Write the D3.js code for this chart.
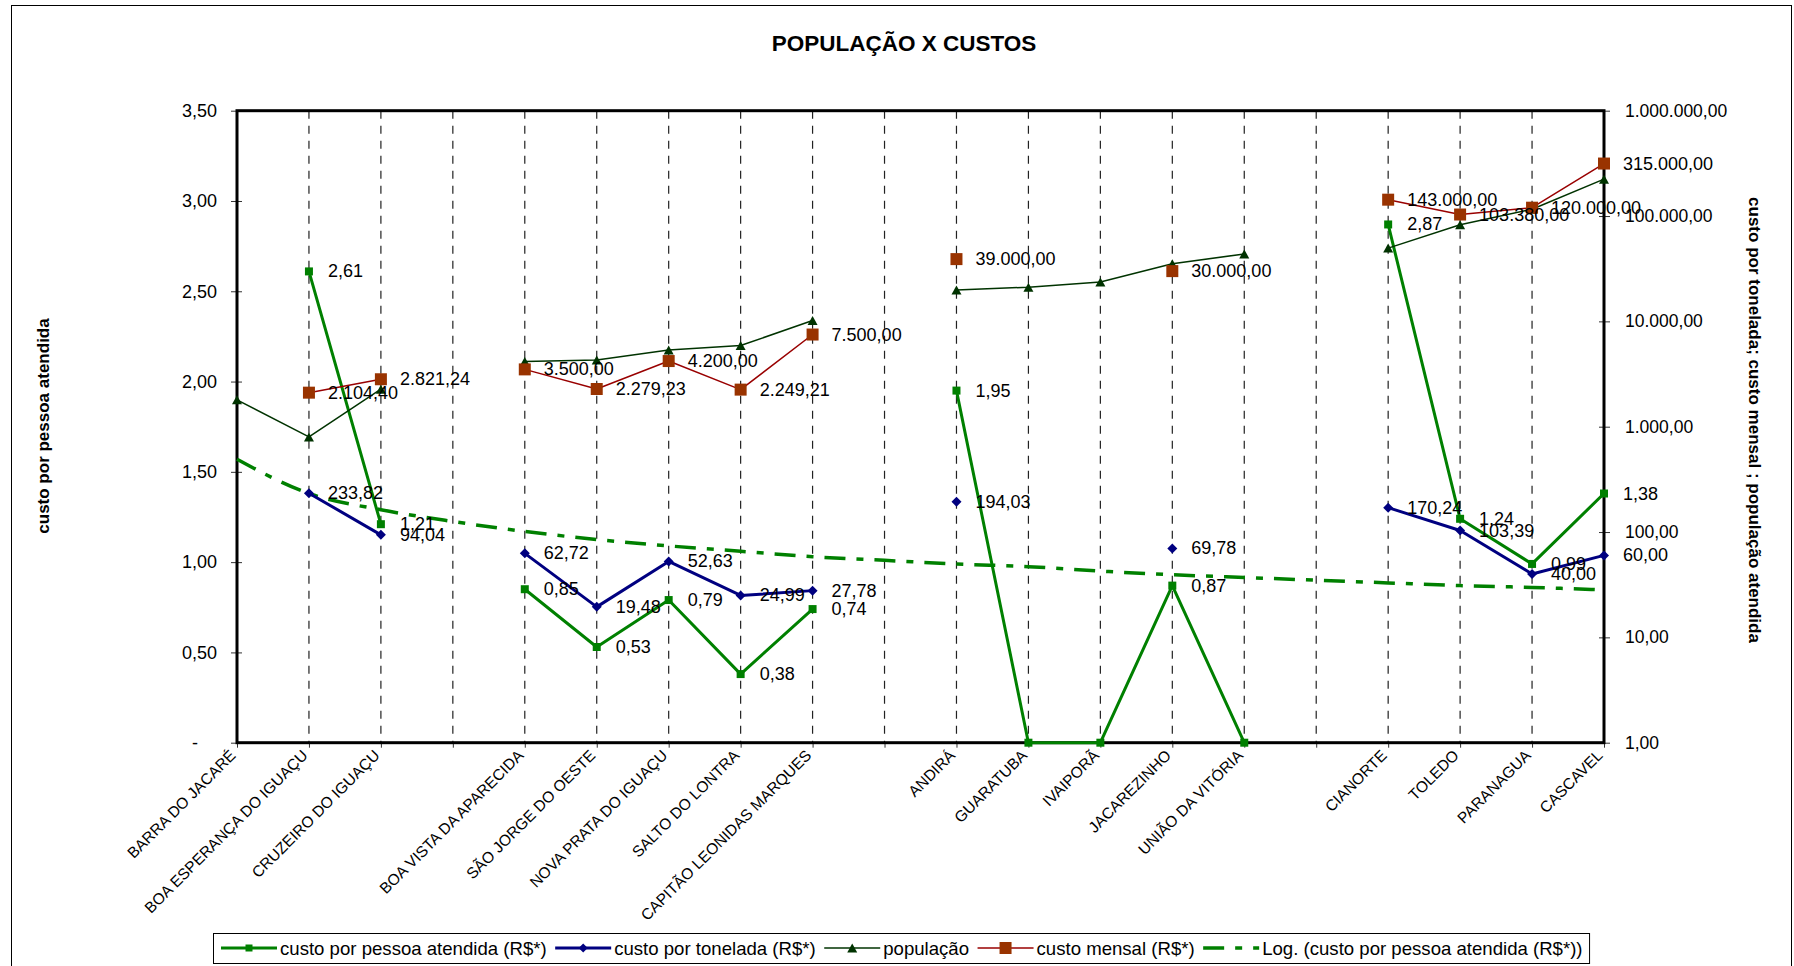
<!DOCTYPE html>
<html>
<head>
<meta charset="utf-8">
<script src="https://cdn.jsdelivr.net/npm/d3@7"></script>
<style>
  body { margin: 0; background: #fff; }
  svg { display: block; font-family: "Liberation Sans", Arial, sans-serif; }
</style>
</head>
<body>
<script>
const width = 1794,
      height = 966;

// categories ("" = empty slot in the original sheet)
const categories = ["BARRA DO JACARÉ", "BOA ESPERANÇA DO IGUAÇU", "CRUZEIRO DO IGUAÇU", "",
  "BOA VISTA DA APARECIDA", "SÃO JORGE DO OESTE", "NOVA PRATA DO IGUAÇU", "SALTO DO LONTRA",
  "CAPITÃO LEONIDAS MARQUES", "", "ANDIRÁ", "GUARATUBA", "IVAIPORÃ", "JACAREZINHO",
  "UNIÃO DA VITÓRIA", "", "CIANORTE", "TOLEDO", "PARANAGUA", "CASCAVEL"];

// left axis
const custoPessoa = [null, 2.61, 1.21, null, 0.85, 0.53, 0.79, 0.38, 0.74, null,
  1.95, 0, 0, 0.87, 0, null, 2.87, 1.24, 0.99, 1.38];
// log trend of custoPessoa
const tendencia = [1.57, 1.38, 1.29, 1.225, 1.17, 1.125, 1.09, 1.06, 1.03, 1.01,
  0.99, 0.975, 0.95, 0.93, 0.915, 0.90, 0.885, 0.87, 0.86, 0.846];

// right (log) axis
const custoTonelada = [null, 233.82, 94.04, null, 62.72, 19.48, 52.63, 24.99, 27.78, null,
  194.03, null, null, 69.78, null, null, 170.24, 103.39, 40.00, 60.00];
const populacao = [1800, 800, 2270, null, 4150, 4300, 5360, 5890, 10200, null,
  19900, 21100, 23600, 35200, 43700, null, 49600, 82500, 116000, 224000];
const custoMensal = [null, 2104.40, 2821.24, null, 3500, 2279.23, 4200, 2249.21, 7500, null,
  39000, null, null, 30000, null, null, 143000, 103380, 120000, 315000];

const leftTicks = [0, 0.5, 1, 1.5, 2, 2.5, 3, 3.5];
const rightTicks = [1, 10, 100, 1000, 10000, 100000, 1000000];

const legendLabels = ["custo por pessoa atendida (R$*)", "custo por tonelada (R$*)", "população",
  "custo mensal (R$*)", "Log. (custo por pessoa atendida (R$*))"];

const br = d3.formatLocale({ decimal: ",", thousands: ".", grouping: [3], currency: ["R$", ""] });
const fmt = br.format(",.2f");

const plot = { left: 237, right: 1604, top: 110.7, bottom: 742.7 };

const x = d3.scalePoint()
    .domain(d3.range(categories.length))
    .range([plot.left, plot.right]);
const yL = d3.scaleLinear().domain([0, 3.5]).range([plot.bottom, plot.top]);
const yR = d3.scaleLog().domain([1, 1e6]).range([plot.bottom, plot.top]);

const GREEN = "#008000", NAVY = "#000080", POP = "#003300", RED = "#990000", BROWN = "#993300";

const svg = d3.select("body").append("svg")
    .attr("width", width)
    .attr("height", height);

svg.append("rect")
    .attr("x", 11.5).attr("y", 5.5)
    .attr("width", 1780).attr("height", 1000)
    .attr("fill", "#fff").attr("stroke", "#000").attr("stroke-width", 1);

// title
svg.append("text")
    .attr("x", 904).attr("y", 51)
    .attr("text-anchor", "middle")
    .style("font-size", "22.5px").style("font-weight", "bold")
    .text("POPULAÇÃO X CUSTOS");

// dashed vertical grid
svg.append("g").selectAll("line")
  .data(d3.range(1, categories.length - 1))
  .enter().append("line")
    .attr("x1", (d) => x(d)).attr("x2", (d) => x(d))
    .attr("y1", plot.top).attr("y2", plot.bottom)
    .attr("stroke", "#222").attr("stroke-width", 1.2)
    .attr("stroke-dasharray", "8,7");

// axes
const gL = svg.append("g")
    .attr("transform", `translate(${plot.left},0)`)
    .call(d3.axisLeft(yL).tickValues(leftTicks).tickSizeOuter(0).tickSize(6).tickPadding(14)
      .tickFormat((d) => d === 0 ? "-" : fmt(d)));
gL.select(".domain").remove();
gL.selectAll(".tick line").attr("x1", 5).attr("x2", -6).attr("stroke", "#333");
gL.selectAll(".tick text").style("font-size", "18px").attr("fill", "#000")
    .attr("dx", (d) => d === 0 ? -19 : 0);

const gR = svg.append("g")
    .attr("transform", `translate(${plot.right},0)`)
    .call(d3.axisRight(yR).tickValues(rightTicks).tickSizeOuter(0).tickSize(6).tickPadding(15)
      .tickFormat(fmt));
gR.select(".domain").remove();
gR.selectAll(".tick line").attr("x1", -5).attr("x2", 6).attr("stroke", "#333");
gR.selectAll(".tick text").style("font-size", "17.5px").attr("fill", "#000");

const gB = svg.append("g")
    .attr("transform", `translate(0,${plot.bottom})`)
    .call(d3.axisBottom(x).tickSize(5).tickSizeOuter(0).tickFormat(""));
gB.select(".domain").remove();
gB.selectAll(".tick line").attr("stroke", "#333");

svg.append("g").selectAll("text")
  .data(categories)
  .enter().append("text")
    .attr("transform", (d, i) => `translate(${x(i) - 8},${plot.bottom + 6}) rotate(-45)`)
    .attr("text-anchor", "end")
    .attr("dy", "0.7em")
    .style("font-size", "15.5px")
    .text((d) => d);

// plot frame
svg.append("rect")
    .attr("x", plot.left).attr("y", plot.top)
    .attr("width", plot.right - plot.left).attr("height", plot.bottom - plot.top)
    .attr("fill", "none").attr("stroke", "#000").attr("stroke-width", 3);

// axis titles
svg.append("text")
    .attr("transform", "translate(43,426) rotate(-90)")
    .attr("text-anchor", "middle").attr("dominant-baseline", "central")
    .style("font-size", "17px").style("font-weight", "bold")
    .text("custo por pessoa atendida");
svg.append("text")
    .attr("transform", "translate(1754,420) rotate(90)")
    .attr("text-anchor", "middle").attr("dominant-baseline", "central")
    .style("font-size", "17px").style("font-weight", "bold")
    .text("custo por tonelada; custo mensal ; população atendida");

/* ------- MARKERS ------- */
const square = (s) => `M${-s / 2},${-s / 2}h${s}v${s}h${-s}Z`;
const diamond = (w, h) => `M0,${-h / 2}L${w / 2},0L0,${h / 2}L${-w / 2},0Z`;
const triangle = (w, h) => `M0,${-h / 2}L${w / 2},${h / 2}L${-w / 2},${h / 2}Z`;

const series = [
  { values: custoPessoa, y: yL, line: GREEN, width: 3, fill: GREEN, shape: square(8), label: true },
  { values: custoTonelada, y: yR, line: NAVY, width: 3, fill: NAVY, shape: diamond(10, 10), label: true },
  { values: populacao, y: yR, line: POP, width: 1.5, fill: POP, shape: triangle(10, 9), label: false },
  { values: custoMensal, y: yR, line: RED, width: 1.5, fill: BROWN, shape: square(12), label: true }
];

const lines = svg.append("g");
const marks = svg.append("g");
const labels = svg.append("g");

series.forEach((s, k) => {
  const line = d3.line()
      .defined((d) => d != null)
      .x((d, i) => x(i))
      .y((d) => s.y(d));
  lines.append("path")
      .datum(s.values)
      .attr("d", line)
      .attr("fill", "none")
      .attr("stroke", s.line)
      .attr("stroke-width", s.width)
      .attr("stroke-linejoin", "round");

  if (k === 0) {
    // log trend line of the first series
    lines.append("path")
        .datum(tendencia)
        .attr("d", d3.line().x((d, i) => x(i)).y((d) => yL(d)).curve(d3.curveMonotoneX))
        .attr("fill", "none")
        .attr("stroke", GREEN)
        .attr("stroke-width", 3.5)
        .attr("stroke-dasharray", "21,11,7,11");
  }

  const pts = s.values.map((v, i) => ({ v, i })).filter((d) => d.v != null);
  marks.selectAll(null)
    .data(pts)
    .enter().append("path")
      .attr("transform", (d) => `translate(${x(d.i)},${s.y(d.v)})`)
      .attr("d", s.shape)
      .attr("fill", s.fill);

  if (s.label) {
    labels.selectAll(null)
      .data(pts.filter((d) => d.v !== 0))
      .enter().append("text")
        .attr("x", (d) => x(d.i) + 19)
        .attr("y", (d) => s.y(d.v))
        .attr("dominant-baseline", "central")
        .style("font-size", "18px")
        .text((d) => fmt(d.v));
  }
});

/* ------- LEGEND ------- */
const legendStyles = [
  { line: GREEN, width: 3, fill: GREEN, mark: square(7) },
  { line: NAVY, width: 3, fill: NAVY, mark: diamond(9, 9) },
  { line: POP, width: 1.5, fill: POP, mark: triangle(10, 9) },
  { line: RED, width: 1.5, fill: BROWN, mark: square(12) },
  { line: GREEN, width: 3.5, dash: "21,11,7,11" }
];

const legend = svg.append("g");
const legendBox = legend.append("rect");
const ly = 948;
let lx = 221;
legendLabels.forEach((name, i) => {
  const st = legendStyles[i];
  legend.append("line")
      .attr("x1", lx).attr("x2", lx + 56)
      .attr("y1", ly).attr("y2", ly)
      .attr("stroke", st.line).attr("stroke-width", st.width)
      .attr("stroke-dasharray", st.dash || null);
  if (st.mark) {
    legend.append("path")
        .attr("transform", `translate(${lx + 28},${ly})`)
        .attr("d", st.mark)
        .attr("fill", st.fill);
  }
  const t = legend.append("text")
      .attr("x", lx + 59).attr("y", ly)
      .attr("dominant-baseline", "central")
      .style("font-size", "18.6px")
      .text(name);
  lx = lx + 59 + t.node().getComputedTextLength() + 8.5;
});
legendBox
    .attr("x", 213.5).attr("y", 933.5)
    .attr("width", lx - 8.5 + 7 - 213.5).attr("height", 30)
    .attr("fill", "#fff").attr("stroke", "#000").attr("stroke-width", 1);
</script>
</body>
</html>
